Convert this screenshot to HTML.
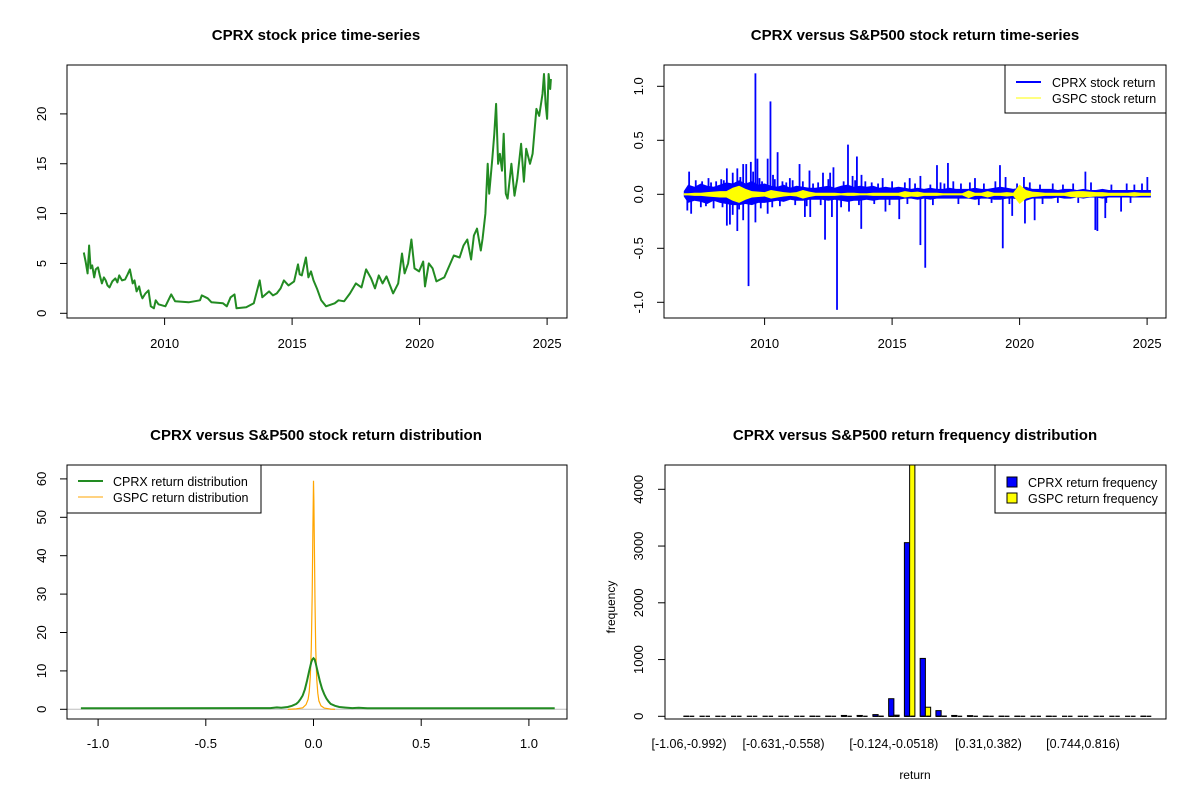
<!DOCTYPE html>
<html><head><meta charset="utf-8">
<style>
html,body{margin:0;padding:0;background:#fff;}
svg{display:block;font-family:"Liberation Sans",Arial,sans-serif;}
</style></head>
<body>
<svg id="fig" width="1200" height="800" viewBox="0 0 1200 800" xmlns="http://www.w3.org/2000/svg">
<rect x="0" y="0" width="1200" height="800" fill="#fff"/>
<defs>
<clipPath id="clipTR"><rect x="664" y="65" width="502" height="253"/></clipPath>
<clipPath id="clipBL"><rect x="67" y="465" width="500" height="254"/></clipPath>
<clipPath id="clipBR"><rect x="665" y="465" width="501" height="254"/></clipPath>
</defs>
<g font-weight="bold" font-size="15" text-anchor="middle" fill="#000">
<text x="316" y="40">CPRX stock price time-series</text>
<text x="915" y="40">CPRX versus S&amp;P500 stock return time-series</text>
<text x="316" y="440">CPRX versus S&amp;P500 stock return distribution</text>
<text x="915" y="440">CPRX versus S&amp;P500 return frequency distribution</text>
</g>
<g id="g-tl"></g>
<g id="g-tr"></g>
<g id="g-bl"></g>
<g id="g-br"></g>
</svg>
<script>
// ---------- Price chart data ----------
const priceYears = [2006.83,2006.9,2006.98,2007.04,2007.1,2007.16,2007.24,2007.3,2007.39,2007.46,2007.54,2007.62,2007.69,2007.76,2007.84,2007.95,2008.07,2008.15,2008.22,2008.33,2008.45,2008.55,2008.64,2008.75,2008.82,2008.9,2009.0,2009.07,2009.13,2009.25,2009.37,2009.46,2009.58,2009.65,2009.76,2010.03,2010.26,2010.41,2010.94,2011.39,2011.46,2011.69,2011.84,2012.29,2012.44,2012.59,2012.74,2012.82,2013.2,2013.5,2013.73,2013.83,2014.1,2014.25,2014.4,2014.55,2014.68,2014.86,2015.08,2015.23,2015.3,2015.38,2015.54,2015.64,2015.74,2015.84,2015.99,2016.14,2016.33,2016.67,2016.82,2017.04,2017.27,2017.5,2017.72,2017.9,2018.1,2018.25,2018.4,2018.55,2018.7,2018.96,2019.16,2019.31,2019.41,2019.55,2019.68,2019.8,2019.98,2020.14,2020.21,2020.36,2020.51,2020.66,2020.97,2021.12,2021.34,2021.57,2021.72,2021.87,2022.02,2022.13,2022.25,2022.4,2022.47,2022.58,2022.67,2022.73,2022.85,2022.93,2023.0,2023.08,2023.15,2023.23,2023.3,2023.38,2023.45,2023.6,2023.72,2023.83,2023.98,2024.09,2024.18,2024.33,2024.43,2024.58,2024.69,2024.82,2024.88,2024.94,2025.0,2025.06,2025.12,2025.15];
const priceValues = [6.1,5.2,4.0,6.8,4.5,4.8,3.6,4.4,4.6,3.8,3.0,3.6,3.3,2.8,2.6,3.2,3.5,3.1,3.8,3.3,3.4,3.9,4.4,3.0,3.3,2.2,2.7,1.9,1.5,2.0,2.3,0.7,0.5,1.3,0.9,0.7,1.9,1.2,1.1,1.3,1.8,1.5,1.1,1.0,0.7,1.6,1.9,0.5,0.6,1.0,3.3,1.6,2.2,1.8,2.0,2.5,3.3,2.8,3.2,4.9,3.9,3.8,5.6,3.6,4.2,3.3,2.4,1.3,0.7,1.0,1.3,1.2,2.0,3.0,2.6,4.4,3.5,2.5,3.8,3.0,3.7,2.0,3.0,6.0,4.0,5.0,7.4,4.5,4.2,5.2,2.7,5.0,4.5,3.2,3.6,4.5,5.8,5.6,6.8,7.4,5.4,7.8,8.5,6.3,7.5,10.0,15.0,12.0,15.5,18.0,21.0,15.0,16.0,14.3,18.0,12.0,11.5,15.0,11.8,13.5,17.0,13.2,16.5,15.0,16.0,20.5,19.8,22.0,24.0,21.0,19.5,24.0,22.5,23.5];
const priceYTicks = [0,5,10,15,20];
const yearTicks = [2010,2015,2020,2025];

// ---------- Return time-series data ----------
const spikeYears = [2007.04,2006.97,2007.12,2008.52,2008.52,2008.64,2008.75,2008.75,2008.93,2008.93,2009.16,2009.16,2009.28,2009.37,2009.46,2009.55,2009.64,2009.64,2009.72,2010.12,2010.12,2010.23,2010.33,2010.51,2010.99,2011.37,2011.58,2011.76,2011.79,2012.29,2012.37,2012.57,2012.64,2012.7,2012.84,2013.27,2013.31,2013.62,2013.79,2013.8,2014.74,2014.63,2015.28,2015.69,2016.11,2016.11,2016.3,2016.76,2017.19,2018.25,2019.23,2019.34,2019.71,2020.17,2020.21,2020.59,2022.58,2022.97,2023.05,2023.36,2023.98,2025.01,
2007.3,2007.55,2007.8,2007.9,2008.1,2008.3,2008.4,2009.05,2009.8,2009.9,2010.4,2010.7,2010.85,2011.1,2011.5,2011.9,2012.1,2012.5,2013.1,2013.45,2013.55,2013.95,2014.2,2014.45,2015.0,2015.5,2015.9,2016.5,2016.9,2017.05,2017.4,2017.7,2018.05,2018.6,2019.05,2019.45,2019.9,2020.4,2020.8,2021.3,2021.7,2022.1,2022.8,2023.6,2024.2,2024.5,2024.8,
2007.5,2007.7,2008.0,2008.35,2009.0,2009.85,2010.3,2010.6,2011.2,2011.65,2012.2,2013.0,2013.7,2014.3,2014.9,2015.6,2016.6,2017.6,2018.4,2018.9,2019.6,2020.9,2021.5,2022.3,2023.4,2024.35];
const spikeValues = [0.21,-0.15,-0.18,0.24,-0.29,-0.28,0.2,-0.19,0.24,-0.34,0.28,-0.24,0.28,-0.85,0.3,0.21,1.12,-0.26,0.33,0.33,-0.18,0.86,0.18,0.39,0.15,0.28,-0.21,0.22,-0.21,0.2,-0.42,0.2,-0.21,0.25,-1.07,0.46,-0.16,0.35,-0.32,0.18,-0.16,0.15,-0.23,0.15,0.17,-0.47,-0.68,0.27,0.29,0.15,0.27,-0.5,-0.2,0.16,-0.27,-0.24,0.21,-0.33,-0.34,-0.22,-0.16,0.16,
0.13,0.12,0.15,0.11,0.12,0.14,0.13,0.16,0.15,0.12,0.14,0.12,0.11,0.13,0.12,0.1,0.11,0.14,0.12,0.17,0.13,0.12,0.11,0.1,0.12,0.11,0.1,0.09,0.11,0.1,0.12,0.1,0.11,0.1,0.12,0.16,0.1,0.11,0.09,0.1,0.09,0.1,0.11,0.09,0.1,0.09,0.1,
-0.12,-0.11,-0.13,-0.12,-0.14,-0.13,-0.12,-0.11,-0.1,-0.11,-0.1,-0.12,-0.1,-0.09,-0.1,-0.09,-0.1,-0.09,-0.1,-0.08,-0.09,-0.09,-0.08,-0.08,-0.08,-0.08];
const bandYears = [2006.83,2007.0,2007.25,2007.5,2007.75,2008.0,2008.25,2008.5,2008.75,2009.0,2009.25,2009.5,2009.75,2010.0,2010.25,2010.5,2010.75,2011.0,2011.25,2011.5,2011.75,2012.0,2012.25,2012.5,2012.75,2013.0,2013.25,2013.5,2013.75,2014.0,2014.25,2014.5,2014.75,2015.0,2015.25,2015.5,2015.75,2016.0,2016.25,2016.5,2016.75,2017.0,2017.25,2017.5,2017.75,2018.0,2018.25,2018.5,2018.75,2019.0,2019.25,2019.5,2019.75,2020.0,2020.25,2020.5,2020.75,2021.0,2021.25,2021.5,2021.75,2022.0,2022.25,2022.5,2022.75,2023.0,2023.25,2023.5,2023.75,2024.0,2024.25,2024.5,2024.75,2025.0,2025.15];
const cprxUpper = [0.03,0.09,0.07,0.1,0.08,0.07,0.09,0.11,0.1,0.13,0.1,0.12,0.09,0.1,0.08,0.07,0.09,0.06,0.08,0.07,0.06,0.06,0.07,0.08,0.06,0.08,0.09,0.07,0.08,0.07,0.08,0.06,0.07,0.06,0.07,0.06,0.05,0.06,0.05,0.06,0.05,0.05,0.06,0.05,0.05,0.05,0.06,0.05,0.05,0.06,0.07,0.06,0.05,0.06,0.07,0.05,0.05,0.05,0.05,0.04,0.05,0.05,0.04,0.05,0.04,0.04,0.05,0.04,0.04,0.04,0.04,0.04,0.04,0.04,0.04];
const cprxLower = [-0.02,-0.08,-0.06,-0.07,-0.09,-0.06,-0.08,-0.09,-0.1,-0.1,-0.09,-0.1,-0.08,-0.08,-0.07,-0.06,-0.07,-0.05,-0.06,-0.06,-0.05,-0.05,-0.05,-0.06,-0.05,-0.06,-0.07,-0.06,-0.06,-0.05,-0.06,-0.05,-0.05,-0.05,-0.05,-0.04,-0.04,-0.05,-0.04,-0.05,-0.04,-0.04,-0.04,-0.04,-0.04,-0.04,-0.05,-0.04,-0.04,-0.05,-0.05,-0.04,-0.04,-0.05,-0.06,-0.04,-0.04,-0.04,-0.04,-0.03,-0.04,-0.04,-0.03,-0.04,-0.03,-0.03,-0.04,-0.03,-0.03,-0.03,-0.03,-0.03,-0.03,-0.03,-0.03];
const gspcAmp = [0.01,0.01,0.015,0.015,0.02,0.025,0.03,0.03,0.06,0.08,0.05,0.03,0.025,0.02,0.04,0.03,0.02,0.015,0.02,0.04,0.025,0.015,0.015,0.015,0.015,0.01,0.015,0.015,0.01,0.01,0.015,0.015,0.015,0.015,0.015,0.03,0.02,0.025,0.015,0.015,0.015,0.01,0.01,0.01,0.01,0.035,0.015,0.015,0.03,0.015,0.015,0.02,0.015,0.09,0.04,0.025,0.02,0.015,0.015,0.015,0.015,0.025,0.03,0.03,0.025,0.02,0.02,0.015,0.015,0.015,0.015,0.02,0.015,0.015,0.015];
const returnYTicks = [-1.0,-0.5,0.0,0.5,1.0];
const returnYLabels = ["-1.0","-0.5","0.0","0.5","1.0"];

// ---------- Density data ----------
const cprxDensX = [-1.08,-0.2,-0.17,-0.15,-0.12,-0.1,-0.08,-0.07,-0.06,-0.05,-0.04,-0.03,-0.02,-0.01,-0.005,0.0,0.005,0.01,0.02,0.03,0.04,0.05,0.06,0.07,0.08,0.1,0.12,0.15,0.18,0.21,0.25,1.12];
const cprxDensY = [0.25,0.3,0.5,0.4,0.6,0.9,1.4,1.9,2.7,3.6,5.2,7.4,10.0,12.3,13.0,13.3,13.0,12.0,9.6,7.2,5.3,3.9,2.8,2.0,1.4,0.9,0.6,0.45,0.3,0.4,0.25,0.25];
const gspcDensX = [-0.12,-0.08,-0.05,-0.035,-0.025,-0.02,-0.015,-0.01,-0.006,-0.003,0.0,0.002,0.004,0.007,0.01,0.015,0.02,0.025,0.035,0.05,0.08,0.1];
const gspcDensY = [0.0,0.1,0.4,1.2,2.6,4.5,8.5,16,30,47,59.5,54,42,28,16,8,4.2,2.2,0.9,0.3,0.05,0.0];
const densXTicks = [-1.0,-0.5,0.0,0.5,1.0];
const densXLabels = ["-1.0","-0.5","0.0","0.5","1.0"];
const densYTicks = [0,10,20,30,40,50,60];

// ---------- Frequency data ----------
const binLabels = ["[-1.06,-0.992)","[-0.631,-0.558)","[-0.124,-0.0518)","[0.31,0.382)","[0.744,0.816)"];
const binLabelIndex = [0,6,13,19,25];
const cprxFreq = [1,0,0,0,0,0,0,0,1,2,15,15,30,310,3060,1020,100,15,12,2,1,1,0,1,0,0,0,0,0,1];
const gspcFreq = [0,0,0,0,0,0,0,0,0,0,0,0,2,20,4600,160,5,0,0,0,0,0,0,0,0,0,0,0,0,0];
const freqYTicks = [0,1000,2000,3000,4000];

const NS = "http://www.w3.org/2000/svg";
function mk(parent, tag, attrs, name) {
  const el = document.createElementNS(NS, tag);
  for (const k in attrs) el.setAttribute(k, attrs[k]);
  
  
  parent.appendChild(el);
  return el;
}
function txt(parent, x, y, s, attrs, name) {
  const el = mk(parent, 'text', Object.assign({x: x, y: y, 'font-size': 13, fill: '#000'}, attrs || {}), name);
  el.textContent = s;
  return el;
}
function box(g, x0, y0, x1, y1, name) {
  mk(g, 'rect', {x: x0, y: y0, width: x1 - x0, height: y1 - y0, fill: 'none', stroke: '#000', 'stroke-width': 1}, name);
}
function xAxis(g, ticks, labels, sx, yb, labY, name) {
  mk(g, 'line', {x1: sx(ticks[0]), x2: sx(ticks[ticks.length - 1]), y1: yb, y2: yb, stroke: '#000'}, name + '-line');
  ticks.forEach((t, i) => {
    mk(g, 'line', {x1: sx(t), x2: sx(t), y1: yb, y2: yb + 7, stroke: '#000'}, name + '-tick');
    txt(g, sx(t), labY, labels[i], {'text-anchor': 'middle'}, name + '-label');
  });
}
function yAxis(g, ticks, labels, sy, xl, labX, name) {
  mk(g, 'line', {x1: xl, x2: xl, y1: sy(ticks[0]), y2: sy(ticks[ticks.length - 1]), stroke: '#000'}, name + '-line');
  ticks.forEach((t, i) => {
    mk(g, 'line', {x1: xl - 7, x2: xl, y1: sy(t), y2: sy(t), stroke: '#000'}, name + '-tick');
    txt(g, labX, sy(t), labels[i], {'text-anchor': 'middle', transform: 'rotate(-90 ' + labX + ' ' + sy(t) + ')'}, name + '-label');
  });
}

// ===== Top-left: price =====
(function(){
  const g = document.getElementById('g-tl');
  const sx = y => 164.6 + (y - 2010) * 25.5;
  const sy = v => 313.3 - 9.97 * v;
  box(g, 67, 65, 567, 318, 'price-plot-box');
  xAxis(g, yearTicks, yearTicks.map(String), sx, 318, 348, 'price-x-axis');
  yAxis(g, priceYTicks, priceYTicks.map(String), sy, 67, 46, 'price-y-axis');
  const pts = priceYears.map((y, i) => sx(y).toFixed(1) + ',' + sy(priceValues[i]).toFixed(1)).join(' ');
  mk(g, 'polyline', {points: pts, fill: 'none', stroke: '#228B22', 'stroke-width': 2, 'stroke-linejoin': 'round'}, 'cprx-price-line');
})();

// ===== Top-right: returns =====
(function(){
  const g = document.getElementById('g-tr');
  const sx = y => 764.6 + (y - 2010) * 25.5;
  const sy = v => 194.3 - 108 * v;
  const inner = mk(g, 'g', {'clip-path': 'url(#clipTR)'}, 'return-series-area');
  const up = bandYears.map((y, i) => sx(y).toFixed(1) + ',' + sy(cprxUpper[i]).toFixed(1));
  const lo = bandYears.map((y, i) => sx(y).toFixed(1) + ',' + sy(cprxLower[i]).toFixed(1)).reverse();
  mk(inner, 'polygon', {points: up.concat(lo).join(' '), fill: '#0000FF', stroke: 'none'}, 'cprx-return-band');
  spikeYears.forEach((y, i) => {
    mk(inner, 'line', {x1: sx(y), x2: sx(y), y1: sy(0), y2: sy(spikeValues[i]), stroke: '#0000FF', 'stroke-width': 1.8}, 'cprx-return-spike');
  });
  const gu = bandYears.map((y, i) => sx(y).toFixed(1) + ',' + sy(gspcAmp[i]).toFixed(1));
  const gl = bandYears.map((y, i) => sx(y).toFixed(1) + ',' + sy(-gspcAmp[i]).toFixed(1)).reverse();
  mk(inner, 'polygon', {points: gu.concat(gl).join(' '), fill: '#FFFF00', stroke: 'none'}, 'gspc-return-band');
  box(g, 664, 65, 1166, 318, 'return-plot-box');
  xAxis(g, yearTicks, yearTicks.map(String), sx, 318, 348, 'return-x-axis');
  yAxis(g, returnYTicks, returnYLabels, sy, 664, 643, 'return-y-axis');
  const lg = mk(g, 'g', {}, 'return-legend');
  mk(lg, 'rect', {x: 1005, y: 65, width: 161, height: 48, fill: '#fff', stroke: '#000'}, 'return-legend-box');
  mk(lg, 'line', {x1: 1016, x2: 1041, y1: 82, y2: 82, stroke: '#0000FF', 'stroke-width': 2}, 'legend-cprx-line');
  txt(lg, 1052, 87, 'CPRX stock return', {'font-size': 12.5}, 'legend-cprx-label');
  mk(lg, 'line', {x1: 1016, x2: 1041, y1: 98, y2: 98, stroke: '#FFFF00', 'stroke-width': 1}, 'legend-gspc-line');
  txt(lg, 1052, 103, 'GSPC stock return', {'font-size': 12.5}, 'legend-gspc-label');
})();

// ===== Bottom-left: density =====
(function(){
  const g = document.getElementById('g-bl');
  const sx = v => 313.5 + 215.4 * v;
  const sy = v => 709.3 - 3.84 * v;
  const inner = mk(g, 'g', {'clip-path': 'url(#clipBL)'}, 'density-area');
  mk(inner, 'line', {x1: 67, x2: 567, y1: sy(0), y2: sy(0), stroke: '#BEBEBE'}, 'zero-line');
  mk(inner, 'polyline', {points: gspcDensX.map((x, i) => sx(x).toFixed(1) + ',' + sy(gspcDensY[i]).toFixed(1)).join(' '), fill: 'none', stroke: '#FFA500', 'stroke-width': 1.2}, 'gspc-density-line');
  mk(inner, 'polyline', {points: cprxDensX.map((x, i) => sx(x).toFixed(1) + ',' + sy(cprxDensY[i]).toFixed(1)).join(' '), fill: 'none', stroke: '#228B22', 'stroke-width': 2}, 'cprx-density-line');
  box(g, 67, 465, 567, 719, 'density-plot-box');
  xAxis(g, densXTicks, densXLabels, sx, 719, 748, 'density-x-axis');
  yAxis(g, densYTicks, densYTicks.map(String), sy, 67, 46, 'density-y-axis');
  const lg = mk(g, 'g', {}, 'density-legend');
  mk(lg, 'rect', {x: 67, y: 465, width: 194, height: 48, fill: '#fff', stroke: '#000'}, 'density-legend-box');
  mk(lg, 'line', {x1: 78, x2: 103, y1: 481, y2: 481, stroke: '#228B22', 'stroke-width': 2}, 'legend-cprx-density-line');
  txt(lg, 113, 486, 'CPRX return distribution', {'font-size': 12.5}, 'legend-cprx-density-label');
  mk(lg, 'line', {x1: 78, x2: 103, y1: 497, y2: 497, stroke: '#FFA500', 'stroke-width': 1}, 'legend-gspc-density-line');
  txt(lg, 113, 502, 'GSPC return distribution', {'font-size': 12.5}, 'legend-gspc-density-label');
})();

// ===== Bottom-right: frequency =====
(function(){
  const g = document.getElementById('g-br');
  const pitch = 15.76, unit = 5.25, c0 = 689;
  const gx = k => c0 + k * pitch;
  const sy = v => 716.3 - 0.05675 * v;
  const inner = mk(g, 'g', {'clip-path': 'url(#clipBR)'}, 'bar-area');
  cprxFreq.forEach((v, k) => {
    if (v > 0) mk(inner, 'rect', {x: gx(k) - unit, y: sy(v), width: unit, height: sy(0) - sy(v), fill: '#0000FF', stroke: '#000', 'stroke-width': 1}, 'cprx-frequency-bar');
    mk(inner, 'line', {x1: gx(k) - unit, x2: gx(k), y1: sy(0), y2: sy(0), stroke: '#000', 'stroke-width': 1.3}, 'cprx-bar-base');
  });
  gspcFreq.forEach((v, k) => {
    if (v > 0) mk(inner, 'rect', {x: gx(k), y: sy(v), width: unit, height: sy(0) - sy(v), fill: '#FFFF00', stroke: '#000', 'stroke-width': 1}, 'gspc-frequency-bar');
    mk(inner, 'line', {x1: gx(k) + 0.8, x2: gx(k) + unit, y1: sy(0), y2: sy(0), stroke: '#000', 'stroke-width': 1.3}, 'gspc-bar-base');
  });
  box(g, 665, 465, 1166, 719, 'frequency-plot-box');
  yAxis(g, freqYTicks, freqYTicks.map(String), sy, 665, 643, 'frequency-y-axis');
  binLabelIndex.forEach((k, i) => {
    txt(g, gx(k), 748, binLabels[i], {'text-anchor': 'middle', 'font-size': 12.5}, 'bin-label');
  });
  txt(g, 915, 779, 'return', {'text-anchor': 'middle', 'font-size': 12}, 'frequency-x-axis-title');
  txt(g, 611, 603, 'frequency', {'text-anchor': 'middle', 'font-size': 12, transform: 'rotate(-90 615 603)'}, 'frequency-y-axis-title');
  const lg = mk(g, 'g', {}, 'frequency-legend');
  mk(lg, 'rect', {x: 995, y: 465, width: 171, height: 48, fill: '#fff', stroke: '#000'}, 'frequency-legend-box');
  mk(lg, 'rect', {x: 1007, y: 477, width: 10, height: 10, fill: '#0000FF', stroke: '#000'}, 'legend-cprx-swatch');
  txt(lg, 1028, 487, 'CPRX return frequency', {'font-size': 12.5}, 'legend-cprx-frequency-label');
  mk(lg, 'rect', {x: 1007, y: 493, width: 10, height: 10, fill: '#FFFF00', stroke: '#000'}, 'legend-gspc-swatch');
  txt(lg, 1028, 503, 'GSPC return frequency', {'font-size': 12.5}, 'legend-gspc-frequency-label');
})();
</script>
</body></html>
